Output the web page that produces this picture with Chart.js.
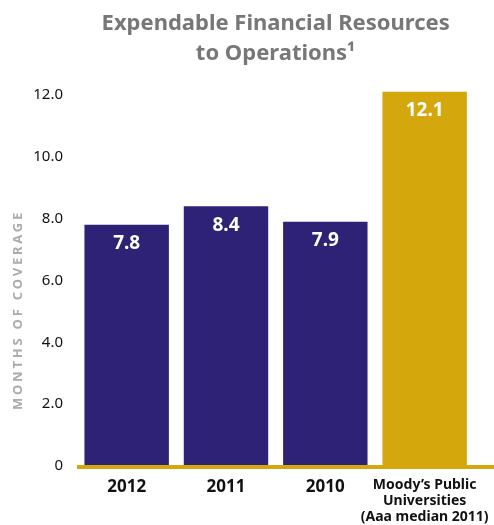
<!DOCTYPE html>
<html>
<head>
<meta charset="utf-8">
<script src="https://cdn.jsdelivr.net/npm/chart.js@4/dist/chart.umd.min.js"></script>
<style>
  html, body { margin: 0; padding: 0; background: #fff; }
  #wrap { width: 494px; height: 525px; }
</style>
</head>
<body>
<div id="wrap"><canvas id="coverage"></canvas></div>
<script>
var categories = ["2012", "2011", "2010", ["Moody\u2019s Public", "Universities", "(Aaa median 2011)"]];
var months = [7.8, 8.4, 7.9, 12.1];
var barColors = ["#2e2276", "#2e2276", "#2e2276", "#d4a80c"];
var yTicks = [0, 2, 4, 6, 8, 10, 12];

var FONT = "'Noto Sans', 'Open Sans', sans-serif";

// white value labels inside the top of each bar
var valueLabels = {
	id: "valueLabels",
	afterDatasetsDraw: function(chart) {
		var ctx = chart.ctx;
		var meta = chart.getDatasetMeta(0);
		ctx.save();
		ctx.fillStyle = "#fff";
		ctx.font = "bold 19px " + FONT;
		ctx.textAlign = "center";
		ctx.textBaseline = "middle";
		meta.data.forEach(function(bar, i) {
			ctx.fillText(months[i].toFixed(1), bar.x, bar.y + 19);
		});
		ctx.restore();
	}
};

// gold baseline running to the right edge
var baseline = {
	id: "baseline",
	afterDatasetsDraw: function(chart) {
		var ctx = chart.ctx;
		var y0 = chart.scales.y.getPixelForValue(0);
		ctx.save();
		ctx.fillStyle = "#d4a80c";
		ctx.fillRect(chart.chartArea.left, y0 - 1, chart.width - chart.chartArea.left, 4);
		ctx.restore();
	}
};

// spaced-out vertical axis caption
var yCaption = {
	id: "yCaption",
	afterDraw: function(chart) {
		var ctx = chart.ctx;
		ctx.save();
		ctx.translate(18, 310);
		ctx.rotate(-Math.PI / 2);
		ctx.fillStyle = "#ababab";
		ctx.font = "bold 13px " + FONT;
		ctx.letterSpacing = "2.8px";
		ctx.textAlign = "center";
		ctx.textBaseline = "middle";
		ctx.fillText("MONTHS OF COVERAGE", 0, 0);
		ctx.restore();
	}
};

var ctx = document.getElementById("coverage").getContext("2d");
var chart = new Chart(ctx, {
	type: "bar",
	data: {
		labels: categories,
		datasets: [{
			data: months,
			backgroundColor: barColors,
			borderWidth: 0,
			categoryPercentage: 1,
			barPercentage: 0.85
		}]
	},
	options: {
		responsive: true,
		maintainAspectRatio: false,
		animation: false,
		layout: { padding: { top: 8, right: 16, left: 0, bottom: 0 } },
		plugins: {
			legend: { display: false },
			tooltip: { enabled: false },
			title: {
				display: true,
				fullSize: false,
				text: ["Expendable Financial Resources", "to Operations\u00b9"],
				color: "#777",
				font: { family: FONT, size: 22, weight: "bold", lineHeight: 1.4 },
				padding: { top: 0, bottom: 16 }
			}
		},
		scales: {
			x: {
				grid: { display: false },
				border: { display: false },
				ticks: {
					color: "#111",
					font: function(c) {
						return c.index === 3
							? { family: FONT, size: 14, weight: "bold", lineHeight: 1.15 }
							: { family: FONT, size: 17, weight: "bold" };
					},
					padding: 3,
					maxRotation: 0,
					autoSkip: false
				},
				afterFit: function(scale) { scale.height = 59; }
			},
			y: {
				min: 0,
				max: 12.3,
				grid: { display: false },
				border: { display: false },
				afterBuildTicks: function(scale) {
					scale.ticks = yTicks.map(function(v) { return { value: v }; });
				},
				ticks: {
					color: "#111",
					font: { family: FONT, size: 15 },
					padding: 6,
					callback: function(v) { return v === 0 ? "0" : v.toFixed(1); }
				},
				afterFit: function(scale) { scale.width = 77; }
			}
		}
	},
	plugins: [baseline, valueLabels, yCaption]
});
</script>
</body>
</html>
